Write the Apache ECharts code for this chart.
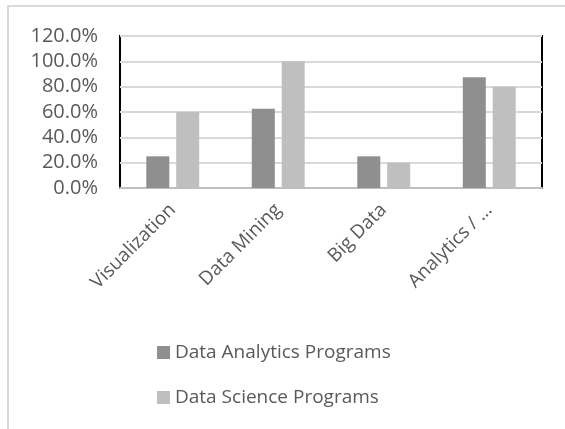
<!DOCTYPE html>
<html>
<head>
<meta charset="utf-8">
<script src="https://cdn.jsdelivr.net/npm/echarts@6/dist/echarts.min.js"></script>
<style>
  html, body { margin: 0; padding: 0; background: #fff; }
  #main { width: 565px; height: 429px; }
</style>
</head>
<body>
<div id="main"></div>
<script>
var categories = ['Visualization', 'Data Mining', 'Big Data', 'Analytics / …']
var analyticsPrograms = [0.25, 0.625, 0.25, 0.875]
var sciencePrograms = [0.6, 1.0, 0.2, 0.8]
var seriesNames = ['Data Analytics Programs', 'Data Science Programs']

var myChart = echarts.init(document.getElementById('main'))
var font = '"Open Sans", Lato, sans-serif'

let option = {
  animation: false,
  textStyle: { fontFamily: font },
  graphic: [{
    type: 'rect',
    shape: { x: 8, y: 6, width: 620, height: 500 },
    style: { fill: 'none', stroke: '#d9d9d9', lineWidth: 2 },
    silent: true
  }],
  legend: {
    orient: 'vertical',
    left: 152,
    top: 338,
    itemWidth: 13,
    itemHeight: 13,
    itemGap: 26,
    icon: 'rect',
    data: seriesNames,
    textStyle: { fontSize: 19, color: '#595959', fontFamily: font }
  },
  grid: {
    left: 120,
    right: 23,
    top: 36,
    bottom: 241,
    show: true,
    borderColor: '#000',
    borderWidth: 2
  },
  xAxis: {
    type: 'category',
    data: categories,
    axisLine: { lineStyle: { color: '#bfbfbf', width: 2 } },
    axisTick: { show: false },
    axisLabel: {
      rotate: 45,
      interval: 0,
      margin: 19,
      fontSize: 19,
      color: '#595959',
      fontFamily: font
    }
  },
  yAxis: {
    type: 'value',
    min: 0,
    max: 1.2,
    interval: 0.2,
    axisLine: { show: false },
    axisTick: { show: false },
    splitLine: { lineStyle: { color: '#d9d9d9', width: 2 } },
    axisLabel: {
      margin: 22,
      fontSize: 20,
      color: '#595959',
      fontFamily: font,
      formatter: function (v) { return (v * 100).toFixed(1) + '%' }
    }
  },
  series: [{
    name: seriesNames[0],
    type: 'bar',
    data: analyticsPrograms,
    barWidth: 23,
    barGap: '30%',
    itemStyle: { color: '#8f8f8f' }
  }, {
    name: seriesNames[1],
    type: 'bar',
    data: sciencePrograms,
    barWidth: 23,
    itemStyle: { color: '#bfbfbf' }
  }]
}
myChart.setOption(option)
</script>
</body>
</html>
